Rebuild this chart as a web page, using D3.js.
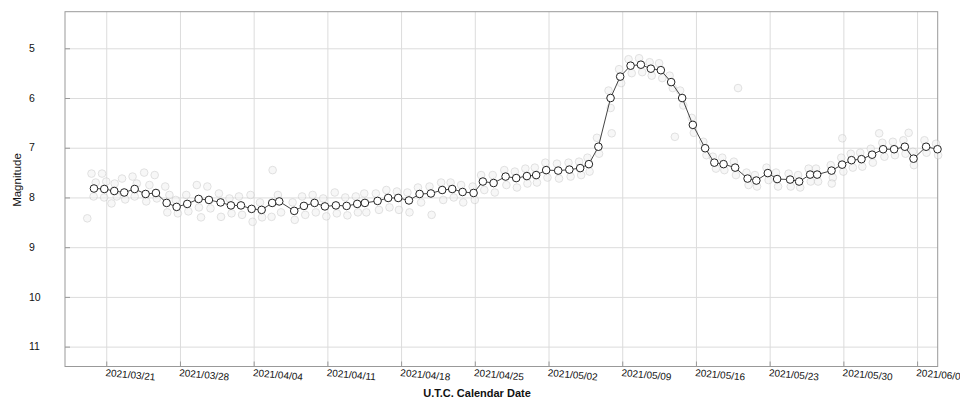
<!DOCTYPE html>
<meta charset="utf-8">
<html>
<script src="https://d3js.org/d3.v7.min.js"></script>
<style>
  body { margin: 0; background: #fff; }
  text { font-family: "Liberation Sans", Arial, sans-serif; fill: #111; }
</style>
<body>
<div id="my_dataviz"></div>
<script>

    // daily means (UTC time of the mean, magnitude)
    const dates = [
      "2021-03-19 20:00","2021-03-20 19:30","2021-03-21 18:15","2021-03-22 17:00","2021-03-23 16:45",
      "2021-03-24 17:45","2021-03-25 17:15","2021-03-26 17:40","2021-03-27 16:25","2021-03-28 16:35",
      "2021-03-29 18:30","2021-03-30 18:00","2021-03-31 20:40","2021-04-01 20:10","2021-04-02 19:00",
      "2021-04-03 19:20","2021-04-04 18:10","2021-04-05 18:15","2021-04-06 10:15","2021-04-07 20:25",
      "2021-04-08 18:30","2021-04-09 18:50","2021-04-10 18:20","2021-04-11 19:25","2021-04-12 19:50",
      "2021-04-13 20:00","2021-04-14 13:30","2021-04-15 18:25","2021-04-16 18:35","2021-04-17 17:25",
      "2021-04-18 17:50","2021-04-19 18:10","2021-04-20 19:55","2021-04-21 21:40","2021-04-22 20:30",
      "2021-04-23 20:10","2021-04-24 21:15","2021-04-25 18:25","2021-04-26 18:50","2021-04-27 22:10",
      "2021-04-28 22:20","2021-04-29 22:40","2021-04-30 19:50","2021-05-01 18:40","2021-05-02 22:00",
      "2021-05-03 23:30","2021-05-05 00:10","2021-05-05 20:00","2021-05-06 17:40","2021-05-07 21:25",
      "2021-05-08 19:20","2021-05-09 19:00","2021-05-10 18:30","2021-05-11 17:15","2021-05-12 16:00",
      "2021-05-13 15:30","2021-05-14 16:35","2021-05-15 16:55","2021-05-16 21:00","2021-05-17 17:55",
      "2021-05-18 14:55","2021-05-19 17:20","2021-05-20 21:40","2021-05-21 17:40","2021-05-22 19:50",
      "2021-05-23 17:05","2021-05-24 22:40","2021-05-25 19:10","2021-05-26 20:15","2021-05-27 12:15",
      "2021-05-28 21:00","2021-05-29 21:10","2021-05-30 18:35","2021-05-31 17:20","2021-06-01 17:30",
      "2021-06-02 18:35","2021-06-03 19:40","2021-06-04 20:05","2021-06-05 15:55","2021-06-06 20:35",
      "2021-06-07 22:35"]
    const mags = [
      7.82,7.83,7.87,7.90,7.83,7.93,7.91,8.11,8.19,8.13,
      8.03,8.05,8.10,8.16,8.16,8.23,8.25,8.11,8.08,8.27,
      8.17,8.11,8.18,8.16,8.17,8.13,8.11,8.07,8.01,8.01,
      8.06,7.93,7.92,7.85,7.83,7.89,7.91,7.68,7.71,7.58,
      7.61,7.57,7.55,7.45,7.46,7.44,7.41,7.33,6.98,6.00,
      5.57,5.35,5.33,5.41,5.44,5.68,6.00,6.54,7.01,7.30,
      7.33,7.40,7.62,7.66,7.51,7.63,7.64,7.68,7.54,7.54,
      7.46,7.34,7.25,7.23,7.14,7.03,7.03,6.98,7.22,6.98,
      7.03]

    // single observations, faint in the background (days after 2021-03-21 00:00 UTC)
    const obsDay = [
      -1.8,-1.4,-1.2,-1.0,-0.4,-0.2,0.0,0.5,0.8,1.0,1.5,1.8,2.5,2.7,2.9,3.6,3.8,4.1,4.6,4.8,
      5.6,5.8,6.0,6.6,6.8,7.6,7.8,8.6,8.8,9.0,9.6,9.9,10.7,10.9,11.7,11.9,12.6,12.9,13.7,13.9,
      14.6,14.8,15.8,15.7,16.3,16.6,17.7,17.9,18.6,18.9,19.6,19.9,20.6,20.9,21.7,21.9,22.7,22.9,23.7,23.9,
      24.5,24.7,25.6,25.9,26.6,26.9,27.6,27.8,28.6,28.8,29.6,29.9,30.7,30.9,31.8,32.0,32.7,33.0,33.7,33.9,
      34.8,35.0,35.6,35.9,36.7,36.9,37.8,38.0,38.8,39.0,39.8,40.0,40.7,40.9,41.7,41.9,42.8,43.0,43.9,44.1,
      44.9,45.1,45.7,45.9,46.6,46.8,47.7,47.9,48.0,48.7,48.9,49.6,49.9,50.6,50.9,51.6,51.8,52.5,52.8,53.5,
      53.8,54.0,54.5,54.8,55.6,55.8,56.7,57.0,57.6,57.9,58.5,58.7,59.6,59.8,60.0,60.8,61.0,61.6,61.8,62.7,
      62.9,63.6,63.8,64.8,65.0,65.7,65.9,66.7,66.9,67.4,67.6,68.8,69.0,68.9,69.8,70.0,69.9,70.7,70.9,71.6,
      71.8,72.6,72.8,73.7,73.9,73.4,74.7,74.9,75.7,75.9,76.2,76.6,76.7,77.7,77.9,78.8,79.0]
    const obsMag = [
      8.42,7.52,7.98,7.70,7.52,8.00,7.68,8.12,7.72,7.98,7.62,8.04,7.58,7.98,7.72,7.50,8.08,7.75,7.55,8.02,
      7.78,8.30,7.95,8.05,8.32,7.95,8.28,7.75,8.20,8.40,7.78,8.22,7.92,8.39,8.02,8.32,7.98,8.35,7.95,8.49,
      8.10,8.40,7.45,8.39,7.95,8.30,8.10,8.45,7.98,8.35,7.95,8.30,8.02,8.38,7.90,8.32,8.00,8.36,7.98,8.30,
      7.92,8.30,7.92,8.25,7.85,8.20,7.88,8.25,7.90,8.30,7.80,8.10,7.78,8.35,7.70,8.05,7.70,8.00,7.75,8.10,
      7.78,8.05,7.55,7.85,7.55,7.90,7.45,7.75,7.48,7.80,7.42,7.72,7.40,7.70,7.30,7.60,7.32,7.62,7.30,7.58,
      7.28,7.55,7.20,7.48,6.80,7.12,5.85,6.20,6.71,5.42,5.70,5.22,5.50,5.20,5.48,5.28,5.55,5.30,5.60,5.55,
      5.80,6.78,5.85,6.15,6.40,6.70,6.88,7.15,7.18,7.42,7.20,7.45,7.28,7.55,5.80,7.50,7.75,7.55,7.78,7.40,
      7.65,7.50,7.78,7.52,7.78,7.55,7.80,7.42,7.68,7.42,7.68,7.35,7.60,7.72,7.20,7.48,6.81,7.12,7.40,7.10,
      7.38,7.02,7.30,6.90,7.18,6.71,6.88,7.15,6.85,7.12,6.70,7.08,7.35,6.85,7.10,6.92,7.15]

    const magTicks = [5, 6, 7, 8, 9, 10, 11]

    const width = 960, height = 399
    const plotLeft = 65, plotRight = 937.7, plotTop = 11.7, plotBottom = 366.5

    const parseTime = d3.utcParse("%Y-%m-%d %H:%M")
    const base = Date.UTC(2021, 2, 21)
    const points = dates.map((d, i) => ({t: parseTime(d), m: mags[i]}))
    const obs = obsDay.map((d, i) => ({t: new Date(base + d * 864e5), m: obsMag[i]}))

    const svg = d3.select("#my_dataviz")
      .append("svg")
        .attr("width", width)
        .attr("height", height)

    const x = d3.scaleUtc()
      .domain([parseTime("2021-03-17 02:00"), parseTime("2021-06-07 23:00")])
      .range([plotLeft, plotRight])

    // magnitude axis runs downwards
    const y = d3.scaleLinear()
      .domain([4.264, 11.40])
      .range([plotTop, plotBottom])

    const weekTicks = d3.utcWeek.range(parseTime("2021-03-21 00:00"), parseTime("2021-06-07 00:00"))

    // grid
    svg.append("g")
      .attr("transform", `translate(0,${plotBottom})`)
      .call(d3.axisBottom(x).tickValues(weekTicks).tickSize(-(plotBottom - plotTop)).tickFormat(""))
      .call(g => g.select(".domain").remove())
      .selectAll("line").attr("stroke", "#dcdcdc")

    svg.append("g")
      .attr("transform", `translate(${plotLeft},0)`)
      .call(d3.axisLeft(y).tickValues(magTicks).tickSize(-(plotRight - plotLeft)).tickFormat(""))
      .call(g => g.select(".domain").remove())
      .selectAll("line").attr("stroke", "#dcdcdc")

    // small inner ticks
    svg.append("g")
      .attr("transform", `translate(${plotLeft},0)`)
      .call(d3.axisLeft(y).tickValues(magTicks).tickSize(-5).tickFormat(""))
      .call(g => g.select(".domain").remove())
      .selectAll("line").attr("stroke", "#999")

    svg.append("g")
      .attr("transform", `translate(0,${plotBottom})`)
      .call(d3.axisBottom(x).tickValues(weekTicks).tickSize(-5).tickFormat(""))
      .call(g => g.select(".domain").remove())
      .selectAll("line").attr("stroke", "#999")

    // frame
    svg.append("rect")
      .attr("x", plotLeft).attr("y", plotTop)
      .attr("width", plotRight - plotLeft).attr("height", plotBottom - plotTop)
      .attr("fill", "none")
      .attr("stroke", "#999")

    // y labels
    svg.append("g")
      .selectAll("text")
      .data(magTicks)
      .join("text")
        .attr("x", 29)
        .attr("y", d => y(d))
        .attr("dy", "0.35em")
        .style("font-size", "10.5px")
        .text(d => d)

    // x labels, tilted
    svg.append("g")
      .selectAll("text")
      .data(weekTicks)
      .join("text")
        .attr("transform", d => `translate(${x(d) - 1},376) rotate(5)`)
        .style("font-size", "10px")
        .text(d3.utcFormat("%Y/%m/%d"))

    svg.append("text")
      .attr("transform", `translate(21,180) rotate(-90)`)
      .attr("text-anchor", "middle")
      .style("font-size", "11.5px")
      .text("Magnitude")

    svg.append("text")
      .attr("x", 477)
      .attr("y", 397)
      .attr("text-anchor", "middle")
      .style("font-size", "11px")
      .style("font-weight", "bold")
      .text("U.T.C. Calendar Date")

    // faint observations
    svg.append("g")
      .selectAll("circle")
      .data(obs)
      .join("circle")
        .attr("cx", d => x(d.t))
        .attr("cy", d => y(d.m))
        .attr("r", 3.8)
        .attr("fill", "#f2f2f2")
        .attr("stroke", "#c8c8c8")
        .attr("stroke-width", 1)
        .style("opacity", 0.55)

    // mean curve
    svg.append("path")
      .datum(points)
      .attr("fill", "none")
      .attr("stroke", "#444")
      .attr("stroke-width", 1)
      .attr("d", d3.line().x(d => x(d.t)).y(d => y(d.m)))

    svg.append("g")
      .selectAll("circle")
      .data(points)
      .join("circle")
        .attr("cx", d => x(d.t))
        .attr("cy", d => y(d.m))
        .attr("r", 3.8)
        .attr("fill", "#fff")
        .attr("stroke", "#222")
        .attr("stroke-width", 1)

</script>
</body>
</html>
